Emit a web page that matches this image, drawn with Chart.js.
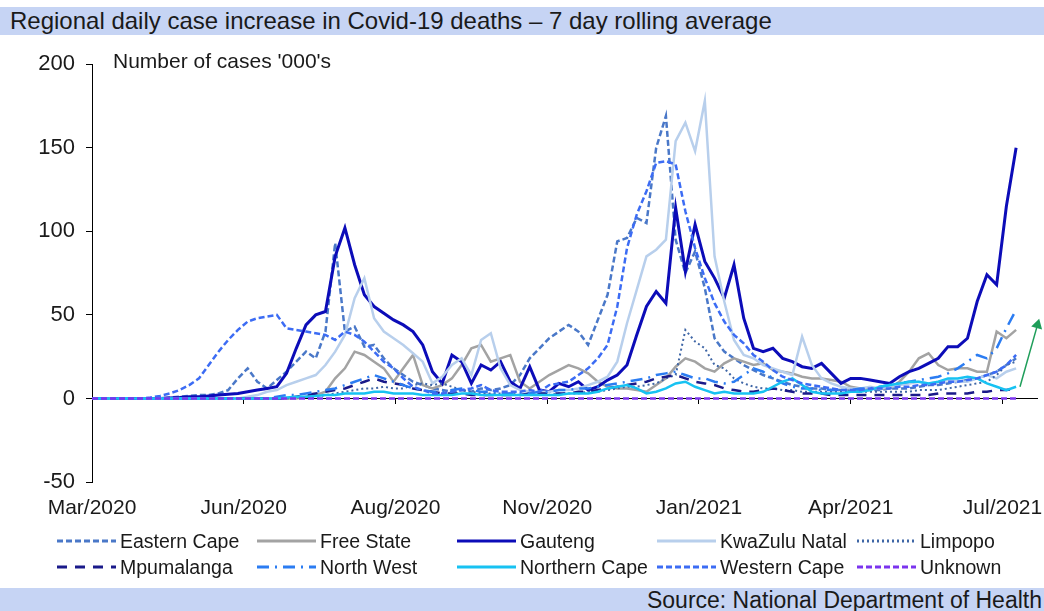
<!DOCTYPE html>
<html lang="en">
<head>
    <meta charset="UTF-8">
    <title>Regional daily case increase in Covid-19 deaths</title>
    <script src="https://cdn.jsdelivr.net/npm/chart.js@4.4.0/dist/chart.umd.min.js"></script>
    <style>
        body {
            margin: 0;
            width: 1044px;
            height: 611px;
            position: relative;
            overflow: hidden;
            background: #ffffff;
            font-family: 'Liberation Sans', Arial, sans-serif;
            color: #1a1a1a;
        }
        .band {
            position: absolute;
            left: 0;
            width: 1044px;
            background-color: #c6d4f4;
            white-space: nowrap;
            overflow: hidden;
        }
        #title {
            top: 7px;
            height: 28px;
            line-height: 28px;
            font-size: 24px;
            padding-left: 10px;
            box-sizing: border-box;
        }
        #source {
            top: 588px;
            height: 23px;
            line-height: 25px;
            font-size: 23px;
            text-align: right;
            padding-right: 2px;
            box-sizing: border-box;
        }
        #chartBox {
            position: absolute;
            left: 0;
            top: 40px;
            width: 1044px;
            height: 490px;
        }
        #unit {
            position: absolute;
            left: 113px;
            top: 49px;
            font-size: 21px;
        }
        #legend {
            position: absolute;
            left: 57px;
            top: 528px;
            display: grid;
            grid-template-columns: repeat(5, 200px);
            grid-auto-rows: 26px;
            font-size: 19.5px;
        }
        .item {
            display: flex;
            align-items: center;
            white-space: nowrap;
        }
        .item svg {
            margin-right: 4px;
        }
    </style>
</head>
<body>
    <div id="title" class="band">Regional daily case increase in Covid-19 deaths – 7 day rolling average</div>
    <div id="chartBox"><canvas id="chart"></canvas></div>
    <div id="unit">Number of cases '000's</div>
    <div id="legend"></div>
    <div id="source" class="band">Source: National Department of Health</div>

    <script>
        // days since 20 Mar 2020, one reading every 5 days
        const days = [0, 5, 10, 15, 20, 25, 30, 35, 40, 45, 50, 55, 60, 65, 70, 75, 80, 85, 90, 95,
            100, 105, 110, 115, 120, 125, 130, 135, 140, 145, 150, 155, 160, 165, 170, 175, 180, 185, 190, 195,
            200, 205, 210, 215, 220, 225, 230, 235, 240, 245, 250, 255, 260, 265, 270, 275, 280, 285, 290, 295,
            300, 305, 310, 315, 320, 325, 330, 335, 340, 345, 350, 355, 360, 365, 370, 375, 380, 385, 390, 395,
            400, 405, 410, 415, 420, 425, 430, 435, 440, 445, 450, 455, 460, 465, 470, 475];

        const tickDays = [0, 78, 156, 234, 312, 390, 468];
        const tickLabels = ['Mar/2020', 'Jun/2020', 'Aug/2020', 'Nov/2020', 'Jan/2021', 'Apr/2021', 'Jul/2021'];

        const easternCape = [0, 0, 0, 0, 0, 0, 0, 0, 0.5, 1, 1.5, 2, 2, 3, 5, 12, 18, 10, 6, 11,
            16, 22, 28, 24, 40, 93, 40, 43, 31, 32, 24, 18, 14, 10, 8, 6, 5, 4, 5, 4,
            6, 5, 6, 8, 14, 24, 30, 36, 40, 44, 40, 32, 47, 62, 94, 96, 108, 105, 150, 169,
            95, 75, 88, 66, 36, 28, 24, 20, 17, 14, 12, 10, 8, 7, 6, 6, 5, 5, 5, 5,
            5, 5, 6, 6, 6, 7, 8, 8, 9, 10, 11, 12, 14, 16, 20, 24];
        const freeState = [0, 0, 0, 0, 0, 0, 0, 0, 0, 0, 0, 0, 0, 0, 0, 0, 0, 0, 0, 0,
            0, 0, 1, 2, 4, 12, 18, 28, 26, 22, 18, 10, 18, 26, 8, 6, 8, 12, 20, 30,
            32, 22, 24, 26, 10, 6, 10, 14, 17, 20, 18, 15, 10, 7, 6, 6, 5, 4, 8, 12,
            19, 24, 22, 18, 16, 21, 24, 22, 20, 21, 17, 16, 15, 13, 12, 12, 11, 10, 7, 6,
            6, 6, 6, 10, 16, 24, 27, 20, 17, 18, 18, 16, 16, 40, 36, 41];
        const gauteng = [0, 0, 0, 0, 0, 0, 0, 0, 0.2, 0.5, 1, 1, 1.5, 2, 2.5, 3, 4, 5, 6, 7,
            15, 30, 44, 50, 52, 85, 102, 80, 62, 55, 51, 47, 44, 40, 32, 16, 9, 26, 22, 9,
            20, 17, 22, 10, 6, 19, 5, 4, 9, 7, 10, 5, 7, 11, 14, 20, 38, 55, 64, 57,
            114, 76, 104, 82, 72, 60, 80, 48, 30, 28, 30, 24, 22, 19, 18, 21, 15, 9, 12, 12,
            11, 10, 9, 13, 16, 18, 21, 24, 31, 31, 36, 58, 74, 68, 115, 150];
        const kwazuluNatal = [0, 0, 0, 0, 0, 0, 0, 0, 0, 0, 0, 0, 0, 0, 0, 0, 1, 2, 4, 5,
            8, 10, 12, 14, 20, 28, 38, 60, 72, 48, 40, 36, 32, 27, 22, 9, 13, 20, 24, 14,
            35, 39, 18, 8, 5, 4, 4, 4, 5, 5, 6, 8, 10, 13, 22, 45, 65, 85, 89, 95,
            154, 165, 148, 178, 85, 58, 35, 26, 24, 20, 18, 16, 14, 37, 20, 12, 9, 7, 6, 6,
            7, 6, 7, 8, 9, 10, 9, 10, 11, 10, 10, 12, 14, 12, 16, 18];
        const limpopo = [0, 0, 0, 0, 0, 0, 0, 0, 0, 0, 0, 0, 0, 0, 0, 0, 0, 0, 0, 0,
            0, 0.5, 1, 1, 2, 3, 4, 5, 6, 6, 7, 6, 6, 8, 9, 8, 9, 7, 5, 4,
            3, 3, 3, 3, 2, 2, 2, 2, 3, 3, 3, 4, 4, 5, 6, 7, 7, 8, 9, 12,
            14, 41, 34, 30, 20, 18, 12, 9, 7, 6, 6, 5, 5, 4, 4, 4, 4, 4, 4, 4,
            4, 4, 4, 4, 4, 5, 5, 5, 6, 7, 8, 9, 10, 14, 20, 22];
        const mpumalanga = [0, 0, 0, 0, 0, 0, 0, 0, 0, 0, 0, 0, 0, 0, 0, 0, 0, 0, 0, 0,
            0, 1, 2, 3, 4, 5, 6, 8, 10, 12, 10, 9, 8, 6, 5, 4, 3, 3, 3, 2,
            2, 2, 2, 2, 2, 3, 3, 3, 3, 3, 4, 4, 5, 6, 7, 8, 9, 10, 12, 13,
            14, 12, 10, 9, 8, 6, 5, 4, 4, 5, 6, 5, 4, 3, 3, 3, 2, 2, 2, 2,
            2, 2, 2, 2, 2, 2, 2, 3, 3, 3, 3, 4, 4, 5, 5, 6];
        const northWest = [0, 0, 0, 0, 0, 0, 0, 0, 0, 0, 0, 0, 0, 0, 0, 0, 0, 0, 0, 1,
            2, 2, 3, 4, 5, 6, 8, 10, 12, 14, 12, 10, 8, 6, 5, 4, 4, 5, 6, 5,
            4, 4, 3, 3, 3, 3, 4, 4, 5, 5, 6, 6, 7, 8, 9, 10, 11, 12, 14, 15,
            16, 14, 12, 12, 10, 9, 10, 14, 18, 16, 12, 9, 7, 6, 6, 5, 5, 5, 5, 6,
            6, 7, 8, 9, 10, 11, 12, 13, 15, 18, 22, 26, 24, 30, 42, 53];
        const northernCape = [0, 0, 0, 0, 0, 0, 0, 0, 0, 0, 0, 0, 0, 0, 0, 0, 0, 0, 0, 0,
            0.5, 1, 1, 1.5, 2, 2, 3, 3, 3, 4, 4, 3, 3, 3, 2, 2, 2, 2, 3, 3,
            2, 2, 2, 2, 2, 2, 2, 2, 2, 3, 3, 3, 4, 6, 7, 8, 6, 3, 4, 6,
            9, 10, 7, 5, 3, 4, 3, 3, 3, 4, 7, 10, 12, 8, 4, 3, 3, 3, 4, 4,
            5, 7, 8, 9, 10, 10, 9, 10, 12, 12, 13, 12, 9, 7, 5, 7];
        const westernCape = [0, 0, 0, 0, 0, 0, 0.5, 1.5, 3, 5, 8, 12, 20, 28, 35, 41, 46, 48, 49, 50,
            42, 41, 40, 39, 38, 35, 40, 38, 34, 28, 22, 18, 12, 7, 5, 3, 3, 4, 5, 6,
            8, 5, 4, 4, 4, 5, 4, 8, 9, 10, 14, 18, 24, 32, 55, 90, 110, 124, 141, 142,
            140, 112, 90, 72, 57, 46, 38, 33, 26, 22, 17, 13, 11, 9, 8, 7, 6, 5, 5, 5,
            6, 6, 6, 7, 7, 8, 8, 9, 10, 10, 11, 12, 14, 16, 20, 26];
        const unknown = [0, 0, 0, 0, 0, 0, 0, 0, 0, 0, 0, 0, 0, 0, 0, 0, 0, 0, 0, 0,
            0, 0, 0, 0, 0, 0, 0, 0, 0, 0, 0, 0, 0, 0, 0, 0, 0, 0, 0, 0,
            0, 0, 0, 0, 0, 0, 0, 0, 0, 0, 0, 0, 0, 0, 0, 0, 0, 0, 0, 0,
            0, 0, 0, 0, 0, 0, 0, 0, 0, 0, 0, 0, 0, 0, 0, 0, 0, 0, 0, 0,
            0, 0, 0, 0, 0, 0, 0, 0, 0, 0, 0, 0, 0, 0, 0, 0];

        // green arrow pointing up after the last reading
        const arrowDays = [477, 486];
        const arrowValues = [7, 44];

        const series = [
            { label: 'Eastern Cape', data: easternCape, color: '#4a78c8', width: 2.5, dash: [6, 3] },
            { label: 'Free State', data: freeState, color: '#a3a3a3', width: 2.5, dash: [] },
            { label: 'Gauteng', data: gauteng, color: '#0c0cb8', width: 3, dash: [] },
            { label: 'KwaZulu Natal', data: kwazuluNatal, color: '#b8cfec', width: 2.5, dash: [] },
            { label: 'Limpopo', data: limpopo, color: '#3f66a6', width: 2, dash: [2, 3] },
            { label: 'Mpumalanga', data: mpumalanga, color: '#1a1a8a', width: 2.5, dash: [10, 8] },
            { label: 'North West', data: northWest, color: '#2b7cf2', width: 2.5, dash: [12, 6, 2, 6] },
            { label: 'Northern Cape', data: northernCape, color: '#17c2f2', width: 2.5, dash: [] },
            { label: 'Western Cape', data: westernCape, color: '#3c6cf4', width: 2.5, dash: [6, 3] },
            { label: 'Unknown', data: unknown, color: '#7b34ee', width: 2.5, dash: [6, 3] }
        ];

        const datasets = series.map((s, i) => ({
            label: s.label,
            data: s.data.map((v, j) => ({ x: days[j], y: v })),
            borderColor: s.color,
            borderWidth: s.width,
            borderDash: s.dash,
            pointRadius: 0,
            tension: 0,
            fill: false,
            order: series.length - i
        }));

        datasets.push({
            label: 'arrow',
            data: arrowDays.map((d, j) => ({ x: d, y: arrowValues[j] })),
            borderColor: '#1f9e5a',
            backgroundColor: '#1f9e5a',
            borderWidth: 1.5,
            pointRadius: [0, 5],
            pointStyle: 'triangle',
            rotation: 15,
            clip: false,
            order: 0
        });

        const setTicks = (scale) => {
            scale.ticks = tickDays.map(v => ({ value: v }));
        };

        const ctx = document.getElementById('chart').getContext('2d');
        const chart = new Chart(ctx, {
            type: 'line',
            data: { datasets: datasets },
            options: {
                responsive: true,
                maintainAspectRatio: false,
                animation: false,
                layout: { padding: { top: 19, right: 0, bottom: 0, left: 0 } },
                plugins: {
                    legend: { display: false },
                    tooltip: { enabled: false }
                },
                scales: {
                    x: {
                        type: 'linear',
                        min: 0,
                        max: 486,
                        afterBuildTicks: setTicks,
                        afterFit: (s) => { s.height = 48; s.paddingLeft = 0; s.paddingRight = 0; },
                        grid: { display: false, drawTicks: false },
                        border: { display: false },
                        ticks: {
                            autoSkip: false,
                            maxRotation: 0,
                            padding: 14,
                            color: '#1a1a1a',
                            font: { family: "'Liberation Sans', Arial, sans-serif", size: 21 },
                            callback: (v, i) => tickLabels[i]
                        }
                    },
                    x2: {
                        type: 'linear',
                        position: { y: 0 },
                        min: 0,
                        max: 486,
                        afterBuildTicks: setTicks,
                        afterFit: (s) => { s.paddingLeft = 0; s.paddingRight = 0; },
                        grid: { drawOnChartArea: false, drawTicks: true, tickLength: 5, color: '#000000' },
                        border: { display: true, color: '#000000', width: 1 },
                        ticks: { display: false }
                    },
                    y: {
                        min: -50,
                        max: 200,
                        afterFit: (s) => { s.width = 92; },
                        grid: { drawOnChartArea: false, drawTicks: true, tickLength: 6, color: '#000000' },
                        border: { display: true, color: '#000000', width: 1 },
                        ticks: {
                            stepSize: 50,
                            padding: 11,
                            color: '#1a1a1a',
                            font: { family: "'Liberation Sans', Arial, sans-serif", size: 22 }
                        }
                    }
                }
            }
        });

        // legend in 5 columns, built from the region datasets
        const legend = document.getElementById('legend');
        series.forEach(s => {
            const item = document.createElement('div');
            item.className = 'item';
            const dash = s.dash.length ? ` stroke-dasharray="${s.dash.join(' ')}"` : '';
            item.innerHTML = `<svg width="59" height="10"><line x1="0" y1="5" x2="59" y2="5" stroke="${s.color}" stroke-width="3"${dash}/></svg><span>${s.label}</span>`;
            legend.appendChild(item);
        });
    </script>
</body>
</html>
